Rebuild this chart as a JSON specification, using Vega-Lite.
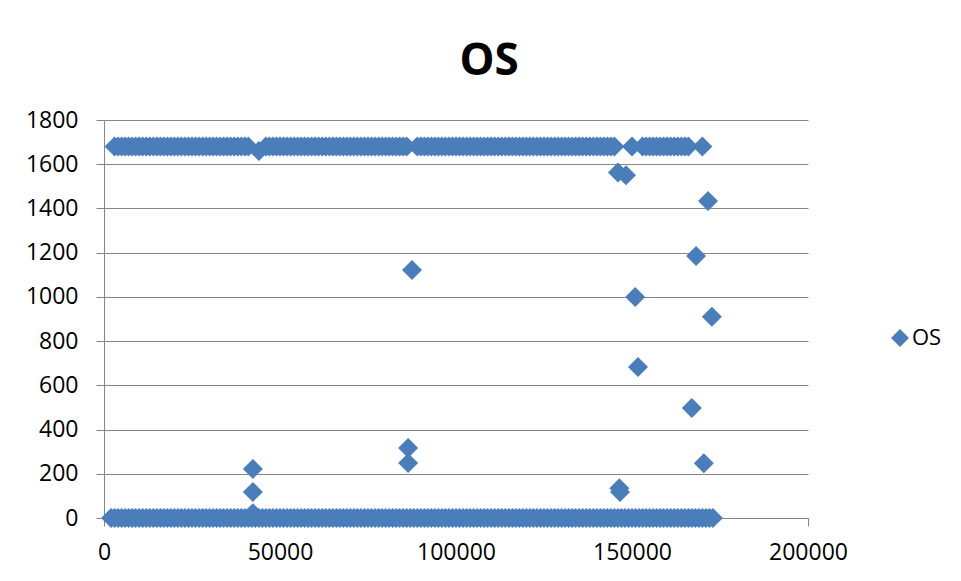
{
  "$schema": "https://vega.github.io/schema/vega-lite/v6.json",
  "autosize": {"type": "none"},
  "padding": {"left": 104, "top": 120, "right": 153, "bottom": 63},
  "width": 704,
  "height": 398,
  "background": "white",
  "title": {"text": "OS", "font": "Open Sans", "fontSize": 44, "fontWeight": "bold", "color": "black", "anchor": "middle", "frame": "group", "dx": 33, "offset": -10, "baseline": "alphabetic"},
  "config": {
    "view": {"stroke": null},
    "axis": {"labelFont": "Open Sans", "labelColor": "black", "domainColor": "#868686", "tickColor": "#868686", "gridColor": "#868686", "gridWidth": 1, "domainWidth": 1, "tickWidth": 1}
  },
  "data": {"values": [
    {"x":3000,"y":1680},{"x":4000,"y":1680},{"x":5000,"y":1680},{"x":6000,"y":1680},{"x":7000,"y":1680},{"x":8000,"y":1680},{"x":9000,"y":1680},{"x":10000,"y":1680},
    {"x":11000,"y":1680},{"x":12000,"y":1680},{"x":13000,"y":1680},{"x":14000,"y":1680},{"x":15000,"y":1680},{"x":16000,"y":1680},{"x":17000,"y":1680},{"x":18000,"y":1680},{"x":19000,"y":1680},{"x":20000,"y":1680},
    {"x":21000,"y":1680},{"x":22000,"y":1680},{"x":23000,"y":1680},{"x":24000,"y":1680},{"x":25000,"y":1680},{"x":26000,"y":1680},{"x":27000,"y":1680},{"x":28000,"y":1680},{"x":29000,"y":1680},{"x":30000,"y":1680},
    {"x":31000,"y":1680},{"x":32000,"y":1680},{"x":33000,"y":1680},{"x":34000,"y":1680},{"x":35000,"y":1680},{"x":36000,"y":1680},{"x":37000,"y":1680},{"x":38000,"y":1680},{"x":39000,"y":1680},{"x":40000,"y":1680},
    {"x":41000,"y":1680},{"x":44000,"y":1660},
    {"x":46000,"y":1680},{"x":47000,"y":1680},{"x":48000,"y":1680},{"x":49000,"y":1680},{"x":50000,"y":1680},
    {"x":51000,"y":1680},{"x":52000,"y":1680},{"x":53000,"y":1680},{"x":54000,"y":1680},{"x":55000,"y":1680},{"x":56000,"y":1680},{"x":57000,"y":1680},{"x":58000,"y":1680},{"x":59000,"y":1680},{"x":60000,"y":1680},
    {"x":61000,"y":1680},{"x":62000,"y":1680},{"x":63000,"y":1680},{"x":64000,"y":1680},{"x":65000,"y":1680},{"x":66000,"y":1680},{"x":67000,"y":1680},{"x":68000,"y":1680},{"x":69000,"y":1680},{"x":70000,"y":1680},
    {"x":71000,"y":1680},{"x":72000,"y":1680},{"x":73000,"y":1680},{"x":74000,"y":1680},{"x":75000,"y":1680},{"x":76000,"y":1680},{"x":77000,"y":1680},{"x":78000,"y":1680},{"x":79000,"y":1680},{"x":80000,"y":1680},
    {"x":81000,"y":1680},{"x":82000,"y":1680},{"x":83000,"y":1680},{"x":84000,"y":1680},{"x":85000,"y":1680},{"x":86000,"y":1680},
    {"x":89000,"y":1680},{"x":90000,"y":1680},
    {"x":91000,"y":1680},{"x":92000,"y":1680},{"x":93000,"y":1680},{"x":94000,"y":1680},{"x":95000,"y":1680},{"x":96000,"y":1680},{"x":97000,"y":1680},{"x":98000,"y":1680},{"x":99000,"y":1680},{"x":100000,"y":1680},
    {"x":101000,"y":1680},{"x":102000,"y":1680},{"x":103000,"y":1680},{"x":104000,"y":1680},{"x":105000,"y":1680},{"x":106000,"y":1680},{"x":107000,"y":1680},{"x":108000,"y":1680},{"x":109000,"y":1680},{"x":110000,"y":1680},
    {"x":111000,"y":1680},{"x":112000,"y":1680},{"x":113000,"y":1680},{"x":114000,"y":1680},{"x":115000,"y":1680},{"x":116000,"y":1680},{"x":117000,"y":1680},{"x":118000,"y":1680},{"x":119000,"y":1680},{"x":120000,"y":1680},
    {"x":121000,"y":1680},{"x":122000,"y":1680},{"x":123000,"y":1680},{"x":124000,"y":1680},{"x":125000,"y":1680},{"x":126000,"y":1680},{"x":127000,"y":1680},{"x":128000,"y":1680},{"x":129000,"y":1680},{"x":130000,"y":1680},
    {"x":131000,"y":1680},{"x":132000,"y":1680},{"x":133000,"y":1680},{"x":134000,"y":1680},{"x":135000,"y":1680},{"x":136000,"y":1680},{"x":137000,"y":1680},{"x":138000,"y":1680},{"x":139000,"y":1680},{"x":140000,"y":1680},
    {"x":141000,"y":1680},{"x":142000,"y":1680},{"x":143000,"y":1680},{"x":144000,"y":1680},{"x":145000,"y":1680},
    {"x":150000,"y":1680},
    {"x":153000,"y":1680},{"x":154000,"y":1680},{"x":155000,"y":1680},{"x":156000,"y":1680},{"x":157000,"y":1680},{"x":158000,"y":1680},{"x":159000,"y":1680},{"x":160000,"y":1680},
    {"x":161000,"y":1680},{"x":162000,"y":1680},{"x":163000,"y":1680},{"x":164000,"y":1680},{"x":165000,"y":1680},{"x":166000,"y":1680},
    {"x":170000,"y":1680},
    {"x":2000,"y":0},{"x":3000,"y":0},{"x":4000,"y":0},{"x":5000,"y":0},{"x":6000,"y":0},{"x":7000,"y":0},{"x":8000,"y":0},{"x":9000,"y":0},{"x":10000,"y":0},
    {"x":11000,"y":0},{"x":12000,"y":0},{"x":13000,"y":0},{"x":14000,"y":0},{"x":15000,"y":0},{"x":16000,"y":0},{"x":17000,"y":0},{"x":18000,"y":0},{"x":19000,"y":0},{"x":20000,"y":0},
    {"x":21000,"y":0},{"x":22000,"y":0},{"x":23000,"y":0},{"x":24000,"y":0},{"x":25000,"y":0},{"x":26000,"y":0},{"x":27000,"y":0},{"x":28000,"y":0},{"x":29000,"y":0},{"x":30000,"y":0},
    {"x":31000,"y":0},{"x":32000,"y":0},{"x":33000,"y":0},{"x":34000,"y":0},{"x":35000,"y":0},{"x":36000,"y":0},{"x":37000,"y":0},{"x":38000,"y":0},{"x":39000,"y":0},{"x":40000,"y":0},
    {"x":41000,"y":0},{"x":42000,"y":0},{"x":43000,"y":0},{"x":44000,"y":0},{"x":45000,"y":0},{"x":46000,"y":0},{"x":47000,"y":0},{"x":48000,"y":0},{"x":49000,"y":0},{"x":50000,"y":0},
    {"x":51000,"y":0},{"x":52000,"y":0},{"x":53000,"y":0},{"x":54000,"y":0},{"x":55000,"y":0},{"x":56000,"y":0},{"x":57000,"y":0},{"x":58000,"y":0},{"x":59000,"y":0},{"x":60000,"y":0},
    {"x":61000,"y":0},{"x":62000,"y":0},{"x":63000,"y":0},{"x":64000,"y":0},{"x":65000,"y":0},{"x":66000,"y":0},{"x":67000,"y":0},{"x":68000,"y":0},{"x":69000,"y":0},{"x":70000,"y":0},
    {"x":71000,"y":0},{"x":72000,"y":0},{"x":73000,"y":0},{"x":74000,"y":0},{"x":75000,"y":0},{"x":76000,"y":0},{"x":77000,"y":0},{"x":78000,"y":0},{"x":79000,"y":0},{"x":80000,"y":0},
    {"x":81000,"y":0},{"x":82000,"y":0},{"x":83000,"y":0},{"x":84000,"y":0},{"x":85000,"y":0},{"x":86000,"y":0},{"x":87000,"y":0},{"x":88000,"y":0},{"x":89000,"y":0},{"x":90000,"y":0},
    {"x":91000,"y":0},{"x":92000,"y":0},{"x":93000,"y":0},{"x":94000,"y":0},{"x":95000,"y":0},{"x":96000,"y":0},{"x":97000,"y":0},{"x":98000,"y":0},{"x":99000,"y":0},{"x":100000,"y":0},
    {"x":101000,"y":0},{"x":102000,"y":0},{"x":103000,"y":0},{"x":104000,"y":0},{"x":105000,"y":0},{"x":106000,"y":0},{"x":107000,"y":0},{"x":108000,"y":0},{"x":109000,"y":0},{"x":110000,"y":0},
    {"x":111000,"y":0},{"x":112000,"y":0},{"x":113000,"y":0},{"x":114000,"y":0},{"x":115000,"y":0},{"x":116000,"y":0},{"x":117000,"y":0},{"x":118000,"y":0},{"x":119000,"y":0},{"x":120000,"y":0},
    {"x":121000,"y":0},{"x":122000,"y":0},{"x":123000,"y":0},{"x":124000,"y":0},{"x":125000,"y":0},{"x":126000,"y":0},{"x":127000,"y":0},{"x":128000,"y":0},{"x":129000,"y":0},{"x":130000,"y":0},
    {"x":131000,"y":0},{"x":132000,"y":0},{"x":133000,"y":0},{"x":134000,"y":0},{"x":135000,"y":0},{"x":136000,"y":0},{"x":137000,"y":0},{"x":138000,"y":0},{"x":139000,"y":0},{"x":140000,"y":0},
    {"x":141000,"y":0},{"x":142000,"y":0},{"x":143000,"y":0},{"x":144000,"y":0},{"x":145000,"y":0},{"x":146000,"y":0},{"x":147000,"y":0},{"x":148000,"y":0},{"x":149000,"y":0},{"x":150000,"y":0},
    {"x":151000,"y":0},{"x":152000,"y":0},{"x":153000,"y":0},{"x":154000,"y":0},{"x":155000,"y":0},{"x":156000,"y":0},{"x":157000,"y":0},{"x":158000,"y":0},{"x":159000,"y":0},{"x":160000,"y":0},
    {"x":161000,"y":0},{"x":162000,"y":0},{"x":163000,"y":0},{"x":164000,"y":0},{"x":165000,"y":0},{"x":166000,"y":0},{"x":167000,"y":0},{"x":168000,"y":0},{"x":169000,"y":0},{"x":170000,"y":0},
    {"x":171000,"y":0},{"x":172000,"y":0},{"x":173000,"y":0},
    {"x":42300,"y":222},{"x":42300,"y":118},{"x":42300,"y":22},
    {"x":86400,"y":317},{"x":86400,"y":249},{"x":87500,"y":1122},
    {"x":146000,"y":1562},{"x":148300,"y":1550},
    {"x":171600,"y":1434},{"x":168200,"y":1185},{"x":150900,"y":1000},{"x":172700,"y":910},
    {"x":151700,"y":683},{"x":167000,"y":497},{"x":170400,"y":248},
    {"x":146400,"y":135},{"x":146600,"y":118}
  ]},
  "mark": {"type": "point", "shape": "diamond", "filled": true, "size": 400, "opacity": 1, "strokeWidth": 0},
  "encoding": {
    "x": {"field": "x", "type": "quantitative", "scale": {"domain": [0, 200000], "nice": false},
      "axis": {"title": null, "values": [0, 50000, 100000, 150000, 200000], "format": "d", "grid": false, "tickSize": 8, "labelPadding": 15, "labelFontSize": 23, "labelFlush": false}},
    "y": {"field": "y", "type": "quantitative", "scale": {"domain": [0, 1800], "nice": false},
      "axis": {"title": null, "values": [0, 200, 400, 600, 800, 1000, 1200, 1400, 1600, 1800], "format": "d", "grid": true, "tickSize": 8, "labelPadding": 18, "labelFontSize": 23}},
    "color": {"datum": "OS", "type": "nominal", "scale": {"range": ["#4A7EBB"]},
      "legend": {"title": null, "orient": "none", "legendX": 785, "legendY": 207, "symbolType": "diamond", "symbolSize": 324, "symbolStrokeWidth": 0, "labelFont": "Open Sans", "labelFontSize": 22, "labelColor": "black", "labelOffset": 1, "padding": 0}}
  }
}
